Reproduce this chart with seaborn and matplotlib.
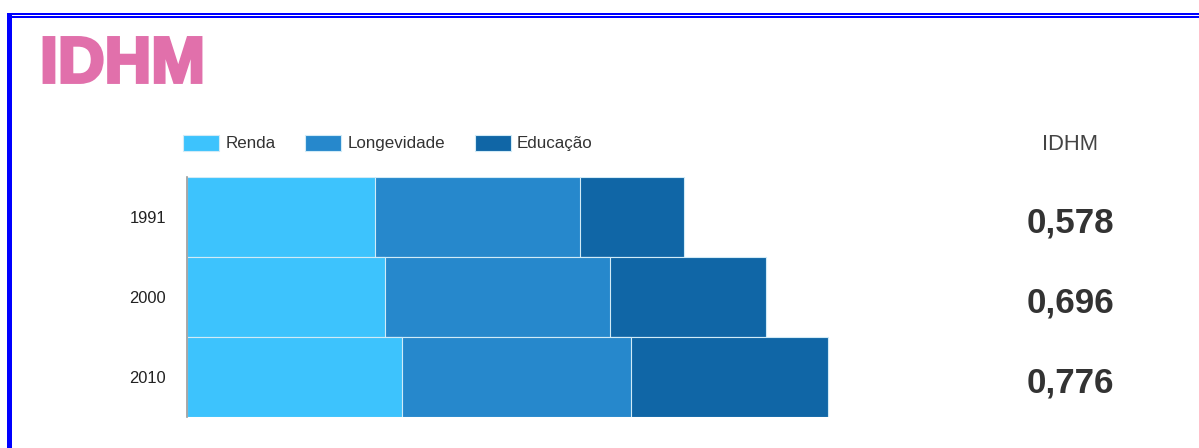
import numpy as np
import pandas as pd
import matplotlib
matplotlib.use("Agg")
import matplotlib.pyplot as plt
import seaborn as sns
from matplotlib.patches import Patch, Rectangle
from matplotlib import transforms
import matplotlib.patheffects as pe

# ---- data ----
years = ["1991", "2000", "2010"]
renda = [0.684, 0.720, 0.782]
longevidade = [0.745, 0.818, 0.833]
educacao = [0.378, 0.567, 0.715]
idhm_labels = ["0,578", "0,696", "0,776"]
series_names = ["Renda", "Longevidade", "Educação"]
colors = ["#3DC3FD", "#2688CC", "#1066A6"]

W, H = 1199, 448
sns.set_theme(style="white")
plt.rcParams['font.family'] = ['Liberation Sans', 'DejaVu Sans']


def fx(px):
    return px / W


def fy(py):
    return 1 - py / H


fig = plt.figure(figsize=(W / 100, H / 100), dpi=100)
fig.patch.set_facecolor('white')

ax = fig.add_axes([fx(187), fy(417), fx(847) - fx(187), (417 - 177) / H])
ax.set_facecolor('white')

df = pd.DataFrame({"year": years, "Renda": renda,
                   "Longevidade": longevidade, "Educação": educacao})
df["c1"] = df["Renda"]
df["c2"] = df["Renda"] + df["Longevidade"]
df["c3"] = df["c2"] + df["Educação"]

edge = (0.82, 0.92, 0.97)
for col, c in zip(["c3", "c2", "c1"], colors[::-1]):
    sns.barplot(data=df, y="year", x=col, order=years, orient="h", color=c,
                width=1.0, saturation=1, edgecolor=edge, linewidth=0.8,
                ax=ax, errorbar=None)

ax.set_xlim(0, 2.4)
ax.set_ylim(2.5, -0.5)
ax.set_xlabel("")
ax.set_ylabel("")
ax.set_xticks([])
for s in ["top", "right", "bottom"]:
    ax.spines[s].set_visible(False)
ax.spines["left"].set_color("#9a9a9a")
ax.spines["left"].set_linewidth(1.2)
ax.tick_params(axis="y", length=0, pad=15.0, labelsize=16.5 * 0.72,
               labelcolor="#222222")

# legend
handles = [Patch(facecolor=c, edgecolor=edge, linewidth=0.8, label=n)
           for n, c in zip(series_names, colors)]
leg = fig.legend(handles=handles, loc="center left",
                 bbox_to_anchor=(fx(183), fy(143)), ncol=3, frameon=False,
                 fontsize=17 * 0.72, handlelength=2.12, handleheight=1.06,
                 handletextpad=0.38, columnspacing=1.73, borderpad=0,
                 borderaxespad=0)
for t in leg.get_texts():
    t.set_color("#333333")

# title
pink = "#E170AB"
fig.text(fx(40), fy(82.2), "IDHM", color=pink, fontsize=46.5,
         fontweight="bold", ha="left", va="baseline",
         path_effects=[pe.withStroke(linewidth=2.5, foreground=pink,
                                     joinstyle="miter")])

# right column
fig.text(fx(1070), fy(149.5), "IDHM", ha="center", va="baseline",
         fontsize=22 * 0.72, color="#444444")
trans = transforms.blended_transform_factory(fig.transFigure, ax.transData) + \
    transforms.ScaledTranslation(0, -15.7 / 100, fig.dpi_scale_trans)
for i, lab in enumerate(idhm_labels):
    fig.text(fx(1070.5), i, lab, transform=trans, ha="center", va="baseline",
             fontsize=35 * 0.72, fontweight="bold", color="#333333")

# frame
blue = "#0000FF"
fig.add_artist(Rectangle((fx(7), 0), fx(12) - fx(7), fy(12.7),
                         transform=fig.transFigure, color=blue, lw=0))
fig.add_artist(Rectangle((fx(7), fy(14.7)), 1 - fx(7), 2 / H,
                         transform=fig.transFigure, color=blue, lw=0))
fig.add_artist(Rectangle((fx(7), fy(18)), 1 - fx(7), 2 / H,
                         transform=fig.transFigure, color=blue, lw=0))

fig.savefig("out.png", dpi=100)
